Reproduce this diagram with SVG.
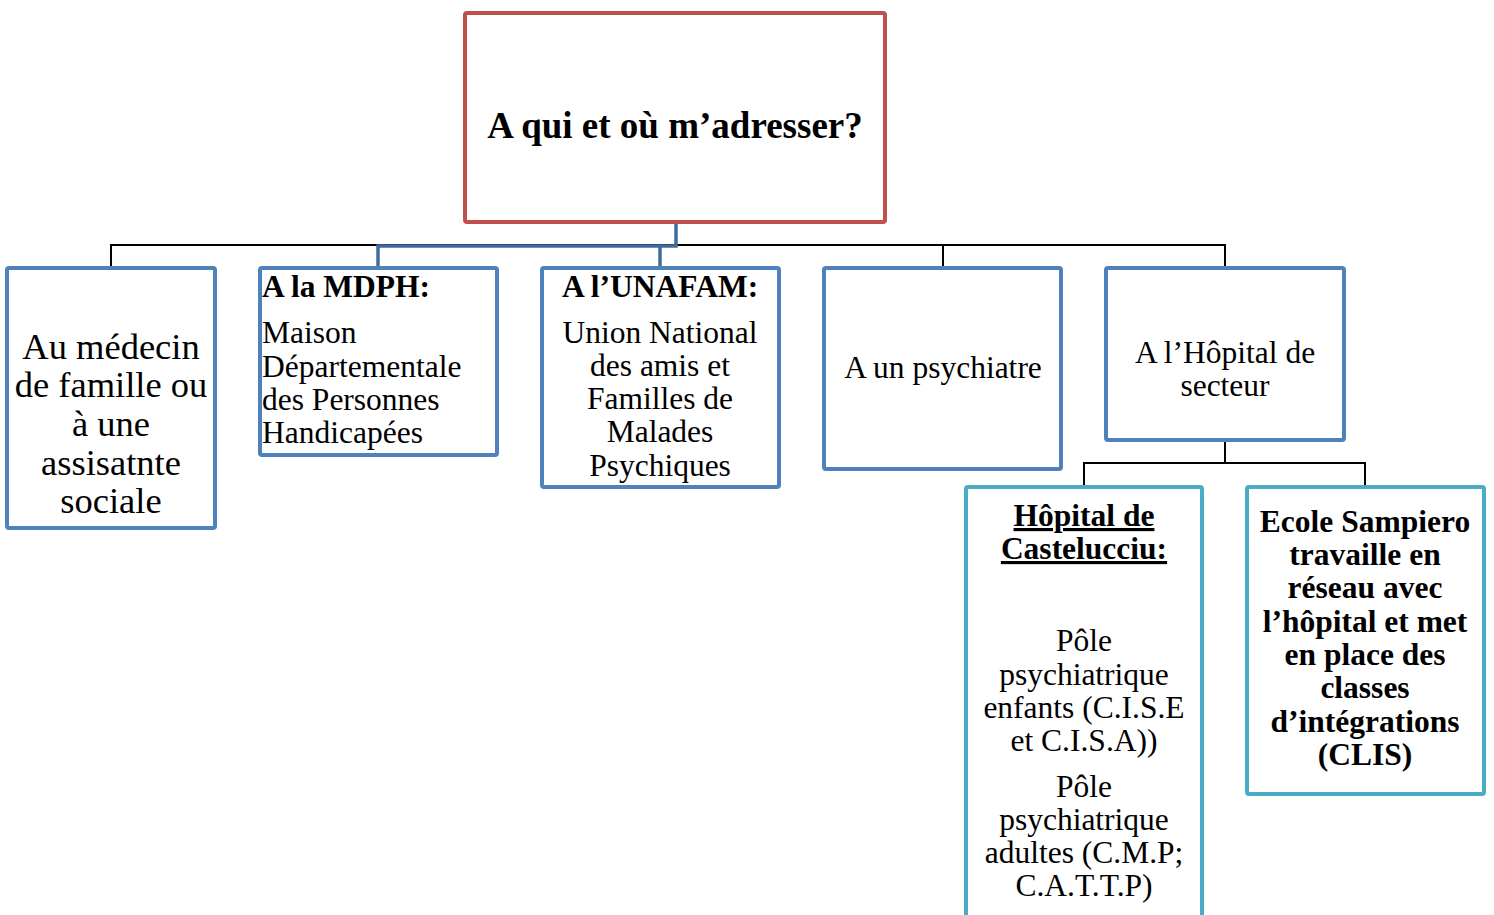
<svg xmlns="http://www.w3.org/2000/svg" width="1494" height="915" viewBox="0 0 1494 915">
<style>
.red{fill:#fff;stroke:#C0504D;stroke-width:4}
.blue{fill:#fff;stroke:#4F81BD;stroke-width:4}
.teal{fill:#fff;stroke:#4BACC6;stroke-width:4}
.t{font-family:"Liberation Serif","Times New Roman",serif;fill:#000;font-size:31.5px}
.big{font-size:36.5px}
.ttl{font-size:37px}
.b{font-weight:bold}
.c{text-anchor:middle}
.k{fill:none;stroke:#000;stroke-width:2}
.bl{fill:none;stroke:#3F6B9E;stroke-width:3.5}
</style>
<rect width="1494" height="915" fill="#fff"/>
<g id="connectors">
<path class="k" d="M111,267 V245 H1225 V267"/>
<path class="k" d="M943,245 V267"/>
<path class="bl" d="M676,223 V246 H378 V267 M660,246 V267"/>
<path class="k" d="M1225,441 V463 M1084,486 V463 H1365 V486"/>
</g>
<g id="root">
<rect class="red" x="465" y="13" width="420" height="209" rx="2"/>
<text class="t ttl b c" x="675" y="138">A qui et où m’adresser?</text>
</g>
<g id="medecin">
<rect class="blue" x="7" y="268" width="208" height="260" rx="2"/>
<text class="t big c"><tspan x="111" y="359">Au médecin</tspan><tspan x="111" y="397">de famille ou</tspan><tspan x="111" y="436">à une</tspan><tspan x="111" y="475">assisatnte</tspan><tspan x="111" y="513">sociale</tspan></text>
</g>
<g id="mdph">
<rect class="blue" x="260" y="268" width="237" height="187" rx="2"/>
<text class="t b" x="262" y="297">A la MDPH:</text>
<text class="t"><tspan x="262" y="343">Maison</tspan><tspan x="262" y="377">Départementale</tspan><tspan x="262" y="410">des Personnes</tspan><tspan x="262" y="443">Handicapées</tspan></text>
</g>
<g id="unafam">
<rect class="blue" x="542" y="268" width="237" height="219" rx="2"/>
<text class="t b c" x="660" y="297">A l’UNAFAM:</text>
<text class="t c"><tspan x="660" y="343">Union National</tspan><tspan x="660" y="376">des amis et</tspan><tspan x="660" y="409">Familles de</tspan><tspan x="660" y="442">Malades</tspan><tspan x="660" y="476">Psychiques</tspan></text>
</g>
<g id="psychiatre">
<rect class="blue" x="824" y="268" width="237" height="201" rx="2"/>
<text class="t c" x="943" y="378">A un psychiatre</text>
</g>
<g id="hopital-secteur">
<rect class="blue" x="1106" y="268" width="238" height="172" rx="2"/>
<text class="t c"><tspan x="1225" y="363">A l’Hôpital de</tspan><tspan x="1225" y="396">secteur</tspan></text>
</g>
<g id="castelucciu">
<rect class="teal" x="966" y="487" width="236" height="450" rx="2"/>
<text class="t b c" text-decoration="underline"><tspan x="1084" y="526">Hôpital de</tspan><tspan x="1084" y="559">Castelucciu:</tspan></text>
<text class="t c"><tspan x="1084" y="651">Pôle</tspan><tspan x="1084" y="685">psychiatrique</tspan><tspan x="1084" y="718">enfants (C.I.S.E</tspan><tspan x="1084" y="751">et C.I.S.A))</tspan><tspan x="1084" y="797">Pôle</tspan><tspan x="1084" y="830">psychiatrique</tspan><tspan x="1084" y="863">adultes (C.M.P;</tspan><tspan x="1084" y="896">C.A.T.T.P)</tspan></text>
</g>
<g id="sampiero">
<rect class="teal" x="1247" y="487" width="237" height="307" rx="2"/>
<text class="t b c"><tspan x="1365" y="532">Ecole Sampiero</tspan><tspan x="1365" y="565">travaille en</tspan><tspan x="1365" y="598">réseau avec</tspan><tspan x="1365" y="632">l’hôpital et met</tspan><tspan x="1365" y="665">en place des</tspan><tspan x="1365" y="698">classes</tspan><tspan x="1365" y="732">d’intégrations</tspan><tspan x="1365" y="765">(CLIS)</tspan></text>
</g>
</svg>
